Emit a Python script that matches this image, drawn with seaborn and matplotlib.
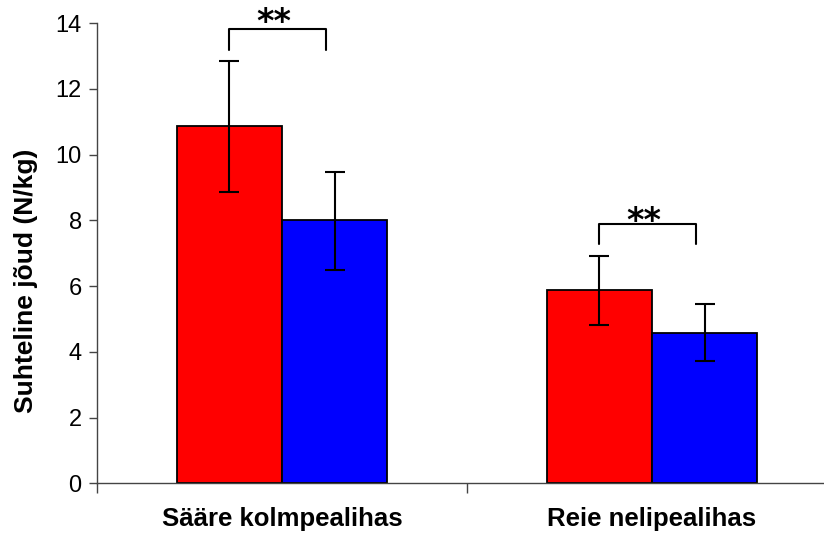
import matplotlib
matplotlib.use("Agg")
import matplotlib.pyplot as plt
import seaborn as sns
import pandas as pd
import numpy as np

categories = ["Sääre kolmpealihas", "Reie nelipealihas"]
groups = ["A", "B"]
means_a = [10.87, 5.88]
means_b = [8.01, 4.58]
err_low_a = [8.86, 4.83]
err_high_a = [12.84, 6.92]
err_low_b = [6.50, 3.73]
err_high_b = [9.47, 5.45]
bracket_y = [13.83, 7.90]
bracket_leg_y = [13.2, 7.28]
star_y = [14.12, 8.07]
sig_labels = ["**", "**"]
yticks = [0, 2, 4, 6, 8, 10, 12, 14]
ylabel = "Suhteline jõud (N/kg)"

sns.set_style("white")
plt.rcParams['font.family'] = ['Liberation Sans', 'DejaVu Sans']
plt.rcParams['text.color'] = 'black'
plt.rcParams['axes.labelcolor'] = 'black'
plt.rcParams['xtick.color'] = 'black'
plt.rcParams['ytick.color'] = 'black'

df = pd.DataFrame({
    "cat": categories * 2,
    "grp": [groups[0]] * 2 + [groups[1]] * 2,
    "val": means_a + means_b,
})

fig = plt.figure(figsize=(8.24, 5.35), dpi=100)
ax = fig.add_axes([97 / 824, (535 - 483.2) / 535, 740 / 824, (483.2 - 23.3) / 535])

sns.barplot(data=df, x="cat", y="val", hue="grp", order=categories, hue_order=groups,
            palette=["#FF0000", "#0000FF"], width=0.57, edgecolor="black", linewidth=1.3,
            errorbar=None, legend=False, ax=ax, saturation=1)

patches = [p for p in ax.patches if p.get_height() > 0]
patches_sorted = sorted(patches, key=lambda p: p.get_x())
lows = [err_low_a[0], err_low_b[0], err_low_a[1], err_low_b[1]]
highs = [err_high_a[0], err_high_b[0], err_high_a[1], err_high_b[1]]
vals = [means_a[0], means_b[0], means_a[1], means_b[1]]
for p, lo, hi, v in zip(patches_sorted, lows, highs, vals):
    xc = p.get_x() + p.get_width() / 2
    ax.errorbar([xc], [v], yerr=[[v - lo], [hi - v]], fmt="none", ecolor="black",
                elinewidth=1.5, capsize=7, capthick=1.5, zorder=5)

for i in range(len(categories)):
    pa = patches_sorted[2 * i]
    pb = patches_sorted[2 * i + 1]
    x1 = pa.get_x() + pa.get_width() / 2
    x2 = pb.get_x() + pb.get_width() * 0.42
    ax.plot([x1, x1, x2, x2], [bracket_leg_y[i], bracket_y[i], bracket_y[i], bracket_leg_y[i]],
            color="black", lw=1.5, clip_on=False)
    ax.text((x1 + x2) / 2 - 0.012, star_y[i], sig_labels[i], ha="center", va="center_baseline",
            fontsize=24, fontweight="bold", family=["DejaVu Sans"], clip_on=False)

ax.set_xlim(-0.5, 1.5)
ax.set_ylim(0, 14)
ax.set_yticks(yticks)
ax.set_yticklabels([str(t) for t in yticks], fontsize=17)
ax.set_ylabel(ylabel, fontsize=19, fontweight="bold")
ax.yaxis.set_label_coords(-0.08, 0.44)
ax.set_xlabel("")
ax.set_xticks([0, 1])
ax.set_xticklabels(categories, fontsize=18.5, fontweight="bold")
ax.set_xticks([-0.5, 0.5, 1.5], minor=True)
ax.tick_params(axis="x", which="major", length=0, pad=17)
ax.tick_params(axis="x", which="minor", length=7, width=1, color="#444444", direction="out", bottom=True)
ax.tick_params(axis="y", length=6, width=1, color="#444444", direction="out", left=True, pad=5)

for s in ["top", "right"]:
    ax.spines[s].set_visible(False)
for s in ["left", "bottom"]:
    ax.spines[s].set_color("#444444")
    ax.spines[s].set_linewidth(1)

fig.savefig("out.png", dpi=100)
